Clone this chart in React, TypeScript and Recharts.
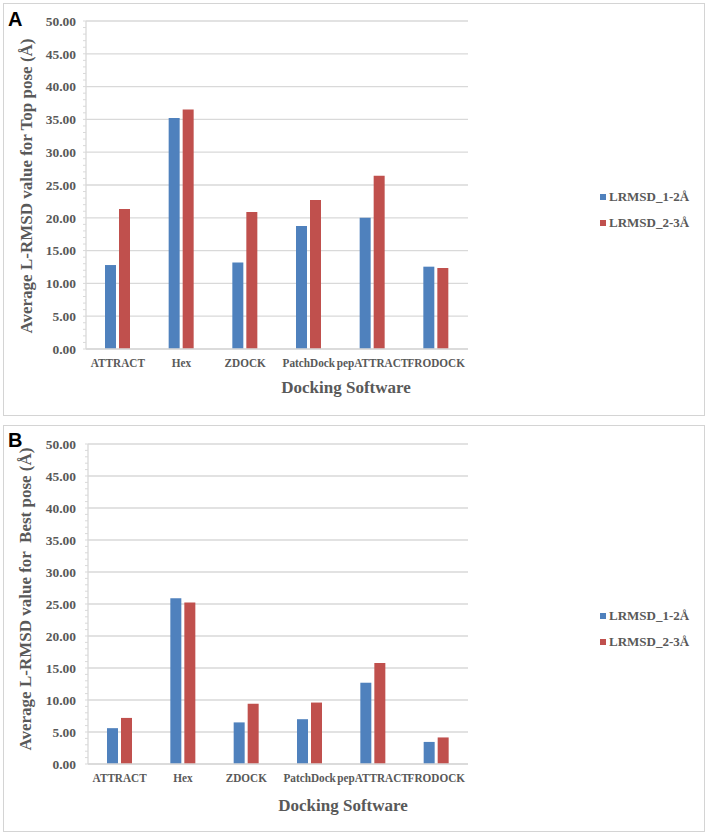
import React from 'react';
import { BarChart, Bar, XAxis, YAxis, CartesianGrid, Legend } from 'recharts';

const categories = ['ATTRACT', 'Hex', 'ZDOCK', 'PatchDock', 'pepATTRACT', 'FRODOCK'];
const topPose12 = [12.8, 35.2, 13.2, 18.75, 20.0, 12.55];
const topPose23 = [21.35, 36.5, 20.9, 22.7, 26.4, 12.35];
const bestPose12 = [5.6, 25.9, 6.5, 7.0, 12.7, 3.45];
const bestPose23 = [7.2, 25.25, 9.4, 9.6, 15.8, 4.15];
const majorTicks = [0, 5, 10, 15, 20, 25, 30, 35, 40, 45, 50];
const allTicks = Array.from({ length: 51 }, (_, i) => i);
const seriesNames = ['LRMSD_1-2Å', 'LRMSD_2-3Å'];
const colors = ['#4F81BD', '#C0504D'];

const SERIF = '"Liberation Serif", "Times New Roman", serif';
const TEXT = '#595959';
const LINE = '#d9d9d9';

const YTick = (props: any) => {
  const { x, y, payload } = props;
  if (payload.value % 5 !== 0) return <g />;
  return (
    <text x={x} y={y} dy="0.35em" textAnchor="end" fontFamily={SERIF} fontWeight="bold" fontSize={13.5} fill={TEXT}>
      {Number(payload.value).toFixed(2)}
    </text>
  );
};

const XTick = (props: any) => {
  const { x, y, payload } = props;
  return (
    <text x={x} y={y} dy="0.71em" textAnchor="middle" fontFamily={SERIF} fontWeight="bold" fontSize={12.5} fill={TEXT}
      transform={`translate(${x} 0) scale(0.9 1) translate(${-x} 0)`}>
      {payload.value}
    </text>
  );
};

const LegendContent = () => (
  <div style={{ fontFamily: SERIF, fontWeight: 'bold', fontSize: 13, color: TEXT }}>
    {seriesNames.map((n, i) => (
      <div key={n} style={{ height: 26, display: 'flex', alignItems: 'center' }}>
        <span style={{ display: 'inline-block', width: 6, height: 6, background: colors[i], marginRight: 3 }} />
        <span>{n}</span>
      </div>
    ))}
  </div>
);

type PanelProps = {
  top: number;
  height: number;
  marginTop: number;
  yWidth: number;
  tickMargin: number;
  s1: number[];
  s2: number[];
  letter: string;
  letterY: number;
  yTitle: string;
  yTitleX: number;
  yTitleY: number;
  xTitleX: number;
  xTitleY: number;
  borderTop: number;
  borderHeight: number;
  legendTop: number;
};

const Panel = (p: PanelProps) => {
  const data = categories.map((c, i) => ({ name: c, a: p.s1[i], b: p.s2[i] }));
  return (
    <div style={{ position: 'absolute', left: 0, top: p.top, width: 709, height: p.height }}>
      <div
        style={{
          position: 'absolute',
          left: 3,
          top: p.borderTop,
          width: 702,
          height: p.borderHeight,
          border: '1.5px solid #d4d4d4',
          boxSizing: 'border-box',
        }}
      />
      <div style={{ position: 'absolute', left: 0, top: 0 }}>
        <BarChart
          width={709}
          height={p.height}
          data={data}
          margin={{ top: p.marginTop, right: 132, bottom: 41, left: 0 }}
          barSize={11}
          barGap={3}
        >
          <CartesianGrid vertical={false} horizontalValues={majorTicks} stroke={LINE} strokeWidth={1.3} />
          <XAxis
            dataKey="name"
            height={30}
            tickLine={false}
            tickSize={0}
            tickMargin={9}
            axisLine={{ stroke: LINE, strokeWidth: 1.3 }}
            interval={0}
            tick={<XTick />}
          />
          <YAxis
            width={p.yWidth}
            domain={[0, 50]}
            ticks={allTicks}
            interval={0}
            tickSize={3}
            tickMargin={p.tickMargin}
            tickLine={{ stroke: LINE }}
            axisLine={{ stroke: LINE, strokeWidth: 1.3 }}
            tick={<YTick />}
          />
          <Legend
            layout="vertical"
            verticalAlign="top"
            align="right"
            content={<LegendContent />}
            wrapperStyle={{ position: 'absolute', left: 600, top: p.legendTop, width: 109 }}
          />
          <Bar dataKey="a" name={seriesNames[0]} fill={colors[0]} isAnimationActive={false} />
          <Bar dataKey="b" name={seriesNames[1]} fill={colors[1]} isAnimationActive={false} />
        </BarChart>
      </div>
      <svg width={709} height={p.height} style={{ position: 'absolute', left: 0, top: 0, pointerEvents: 'none' }}>
        <text x={8} y={p.letterY} fontFamily='"Liberation Sans", Arial, sans-serif' fontWeight="bold" fontSize={20} fill="#000">
          {p.letter}
        </text>
        <text
          x={p.yTitleX}
          y={p.yTitleY}
          transform={`rotate(-90 ${p.yTitleX} ${p.yTitleY})`}
          textAnchor="middle"
          fontFamily={SERIF}
          fontWeight="bold"
          fontSize={17}
          fill={TEXT}
          style={{ whiteSpace: 'pre' }}
        >
          {p.yTitle}
        </text>
        <text x={p.xTitleX} y={p.xTitleY} textAnchor="middle" fontFamily={SERIF} fontWeight="bold" fontSize={17} fill={TEXT}>
          Docking Software
        </text>
      </svg>
    </div>
  );
};

export default function App() {
  return (
    <div style={{ position: 'absolute', left: 0, top: 0, width: 709, height: 835, background: '#fff' }}>
      <Panel
        top={0}
        height={420}
        marginTop={21}
        yWidth={86}
        tickMargin={7}
        s1={topPose12}
        s2={topPose23}
        letter="A"
        letterY={26}
        yTitle="Average L-RMSD value for Top pose (Å)"
        yTitleX={32}
        yTitleY={186}
        xTitleX={346}
        xTitleY={393}
        borderTop={3}
        borderHeight={413}
        legendTop={184}
      />
      <Panel
        top={420}
        height={415}
        marginTop={24}
        yWidth={88}
        tickMargin={9}
        s1={bestPose12}
        s2={bestPose23}
        letter="B"
        letterY={27}
        yTitle="Average L-RMSD value for  Best pose (Å)"
        yTitleX={31}
        yTitleY={179}
        xTitleX={343}
        xTitleY={391}
        borderTop={5}
        borderHeight={407}
        legendTop={183}
      />
    </div>
  );
}
